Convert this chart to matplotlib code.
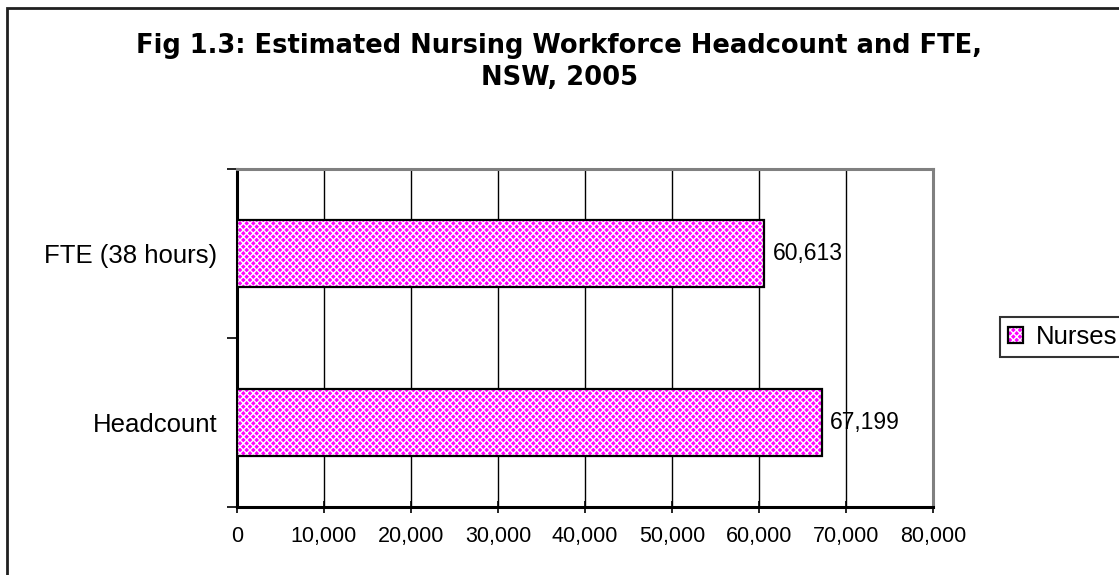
import matplotlib
matplotlib.use("Agg")
import matplotlib.pyplot as plt
from matplotlib.patches import Rectangle
from matplotlib.legend_handler import HandlerTuple
from matplotlib.ticker import FuncFormatter, MultipleLocator

categories = ["Headcount", "FTE (38 hours)"]
values = [67199, 60613]
value_labels = ["67,199", "60,613"]
series_name = "Nurses"
title = "Fig 1.3: Estimated Nursing Workforce Headcount and FTE,\nNSW, 2005"

plt.rcParams['font.family'] = ['Liberation Sans', 'DejaVu Sans']
plt.rcParams['hatch.linewidth'] = 1.0

W, H = 1119, 575
fig = plt.figure(figsize=(W / 100, H / 100), dpi=100)

# outer chart border
fig.patches.append(Rectangle((7 / W, -0.05), 1.2, 1 - 8 / H + 0.05, transform=fig.transFigure,
                             fill=False, edgecolor='#202020', linewidth=2, zorder=0))

ax = fig.add_axes([237 / W, 1 - 507 / H, (933 - 237) / W, (507 - 169) / H])

y = list(range(len(categories)))
fill = ax.barh(y, values, height=0.4, color='#FF00FF', edgecolor='white', hatch='xxxxx',
               linewidth=0, zorder=3)
outline = ax.barh(y, values, height=0.4, fill=False, edgecolor='black', linewidth=1.6, zorder=4)

for yi, v, lab in zip(y, values, value_labels):
    ax.annotate(lab, (v, yi), xytext=(6, 0), textcoords='offset points',
                va='center', ha='left', fontsize=16.5)

ax.set_xlim(0, 80000)
ax.set_ylim(-0.5, 1.5)
ax.xaxis.set_major_locator(MultipleLocator(10000))
ax.xaxis.set_major_formatter(FuncFormatter(lambda v, p: f"{int(v):,}"))
ax.grid(axis='x', color='black', linewidth=1, zorder=1)
ax.set_axisbelow(True)

ax.set_yticks([-0.5, 0.5, 1.5])
ax.set_yticklabels([])
ax.set_yticks(y, minor=True)
ax.set_yticklabels(categories, minor=True, fontsize=18.5)
ax.tick_params(axis='y', which='minor', length=0, pad=14)
ax.tick_params(axis='y', which='major', length=7, width=1.2, direction='out')
ax.tick_params(axis='x', which='major', length=8, width=1.2, direction='inout', labelsize=15.5, pad=10)

for s in ['top', 'right']:
    ax.spines[s].set_color('#808080')
    ax.spines[s].set_linewidth(2.2)
for s in ['left', 'bottom']:
    ax.spines[s].set_color('black')
    ax.spines[s].set_linewidth(2.2)

fig.text(0.5, 1 - 62 / H, title, ha='center', va='center', fontsize=18.5, fontweight='bold',
         family=['DejaVu Sans'], linespacing=1.3)

leg = fig.legend([(fill[0], outline[0])], [series_name], loc='center left',
                 bbox_to_anchor=(1000 / W, 1 - 337 / H),
                 handler_map={tuple: HandlerTuple(ndivide=1, pad=0)},
                 fontsize=18.5, frameon=True, fancybox=False, edgecolor='black',
                 handlelength=0.6, handleheight=0.6, handletextpad=0.5,
                 borderpad=0.3, borderaxespad=0)
leg.get_frame().set_linewidth(1.5)

fig.savefig("out.png", dpi=100)
